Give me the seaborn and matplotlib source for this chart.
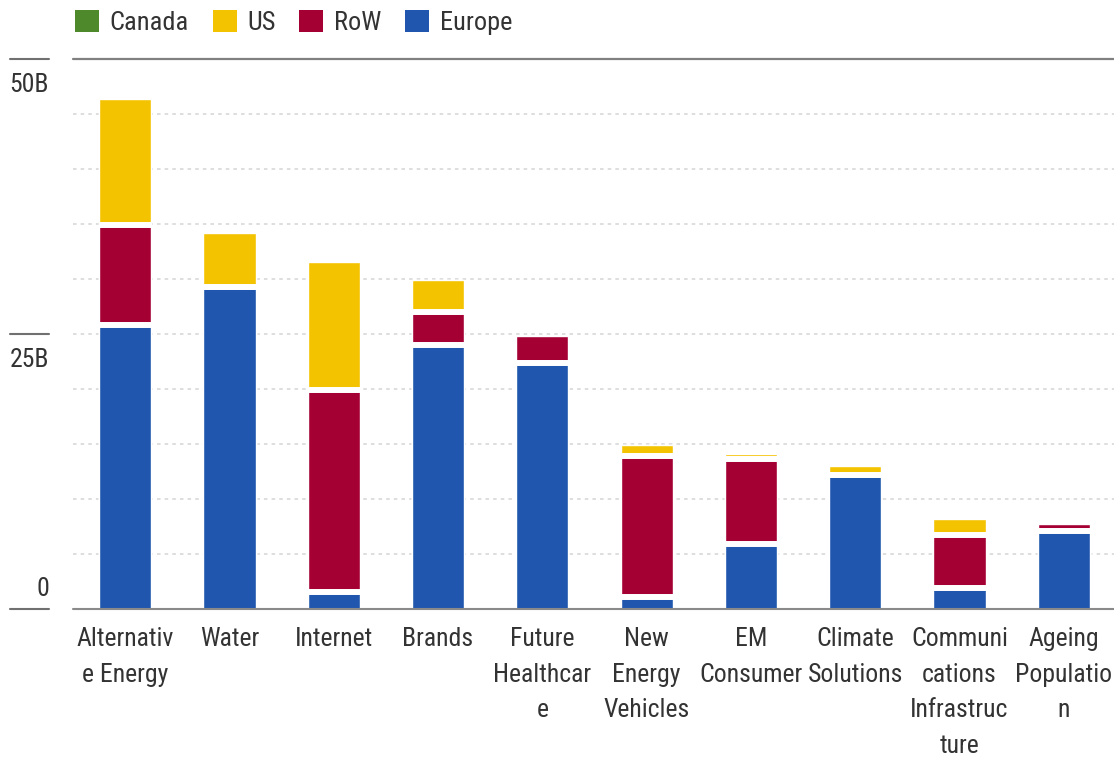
import matplotlib
matplotlib.use("Agg")
import matplotlib.pyplot as plt
import seaborn as sns
import numpy as np
from matplotlib.patches import Patch
from matplotlib.lines import Line2D

# ---------------- data ----------------
categories = ["Alternative Energy", "Water", "Internet", "Brands", "Future Healthcare",
              "New Energy Vehicles", "EM Consumer", "Climate Solutions",
              "Communications Infrastructure", "Ageing Population"]
tick_labels = ["Alternativ\ne Energy", "Water", "Internet", "Brands", "Future\nHealthcar\ne",
               "New\nEnergy\nVehicles", "EM\nConsumer", "Climate\nSolutions",
               "Communi\ncations\nInfrastruc\nture", "Ageing\nPopulatio\nn"]
europe = [25.85, 29.3, 1.6, 24.0, 22.35, 1.15, 5.9, 12.2, 1.9, 7.15]
row    = [9.1, 0.0, 18.3, 3.05, 2.5, 12.8, 7.8, 0.0, 4.9, 0.65]
us     = [11.4, 4.9, 11.7, 2.9, 0.0, 1.0, 0.45, 0.8, 1.4, 0.0]
canada = [0.0, 0.0, 0.0, 0.0, 0.0, 0.0, 0.0, 0.0, 0.0, 0.0]
series_names = ["Canada", "US", "RoW", "Europe"]
y_ticks = [0, 25, 50]
y_tick_labels = ["0", "25B", "50B"]
grid_values = [5, 10, 15, 20, 25, 30, 35, 40, 45]

colors = {"Europe": "#2056AE", "RoW": "#A50034", "US": "#F4C300", "Canada": "#4E8A2B"}

# ---------------- style ----------------
sns.set_style("white")
plt.rcParams["font.family"] = ["Roboto Condensed", "IBM Plex Sans Condensed",
                               "Archivo Narrow", "DejaVu Sans"]
text_color = "#333333"

fig = plt.figure(figsize=(11.14, 7.57), dpi=100)
W, H = 1114, 757
ax = fig.add_axes([73 / W, (H - 609.3) / H, (1116 - 73) / W, (609.3 - 59.3) / H])

# stacked bars (drawn as cumulative layers, top layer first)
stack_order = [("Europe", europe), ("RoW", row), ("US", us), ("Canada", canada)]
cum = np.cumsum(np.array([s[1] for s in stack_order]), axis=0)
for k in range(len(stack_order) - 1, -1, -1):
    name = stack_order[k][0]
    sns.barplot(x=categories, y=cum[k], order=categories, color=colors[name],
                saturation=1, width=0.5, errorbar=None, ax=ax, zorder=2)

# white separators between stacked segments
total = cum[-1]
for i in range(len(categories)):
    for k in range(len(stack_order) - 1):
        b = cum[k][i]
        if 1e-9 < b < total[i] - 1e-9:
            ax.hlines(b, i - 0.25, i + 0.25, colors="white", lw=4.3, zorder=3,
                      capstyle="butt")

ax.set_xlim(-0.5, 9.5)
ax.set_ylim(0, 50)
for sp in ax.spines.values():
    sp.set_visible(False)
ax.set_yticks([])
ax.set_xlabel("")
ax.set_ylabel("")

# gridlines
for g in grid_values:
    ax.axhline(g, color="#d4d4d4", lw=1.1, linestyle=(0, (2.3, 2.7)), zorder=1)
# baseline
ax.axhline(0, color="#8a8a8a", lw=1.5, zorder=4, clip_on=False)
# top rule
fig.add_artist(Line2D([72.7 / W, 1.0], [(H - 58.9) / H] * 2, transform=fig.transFigure,
                      color="#808080", lw=1.6))

# x tick labels
ax.set_xticks(range(len(categories)))
ax.set_xticklabels(tick_labels, fontsize=18.5, linespacing=1.6, color=text_color)
ax.tick_params(axis="x", length=0, pad=13)

# y ticks: short rules at left with labels
blend = matplotlib.transforms.blended_transform_factory(fig.transFigure, ax.transData)
for v, lab in zip(y_ticks, y_tick_labels):
    ax.add_line(Line2D([10 / W, 49 / W], [v, v], transform=blend,
                       color="#707070", lw=1.5, clip_on=False))
    dy = 13 if v == 0 else -33
    ax.annotate(lab, xy=(49 / W, v), xycoords=("figure fraction", "data"),
                xytext=(0, dy), textcoords="offset pixels", ha="right", va="baseline",
                fontsize=18.5, color=text_color, annotation_clip=False)

# legend
handles = [Patch(facecolor=colors[n], edgecolor="none") for n in series_names]
fig.legend(handles, series_names, loc="upper left", bbox_to_anchor=(75 / W, 1 - 10 / H),
           ncol=4, frameon=False, fontsize=19, handlelength=0.91, handleheight=0.91,
           handletextpad=0.4, columnspacing=0.9, borderpad=0, borderaxespad=0,
           labelcolor=text_color)

fig.savefig("out.png", dpi=100)
